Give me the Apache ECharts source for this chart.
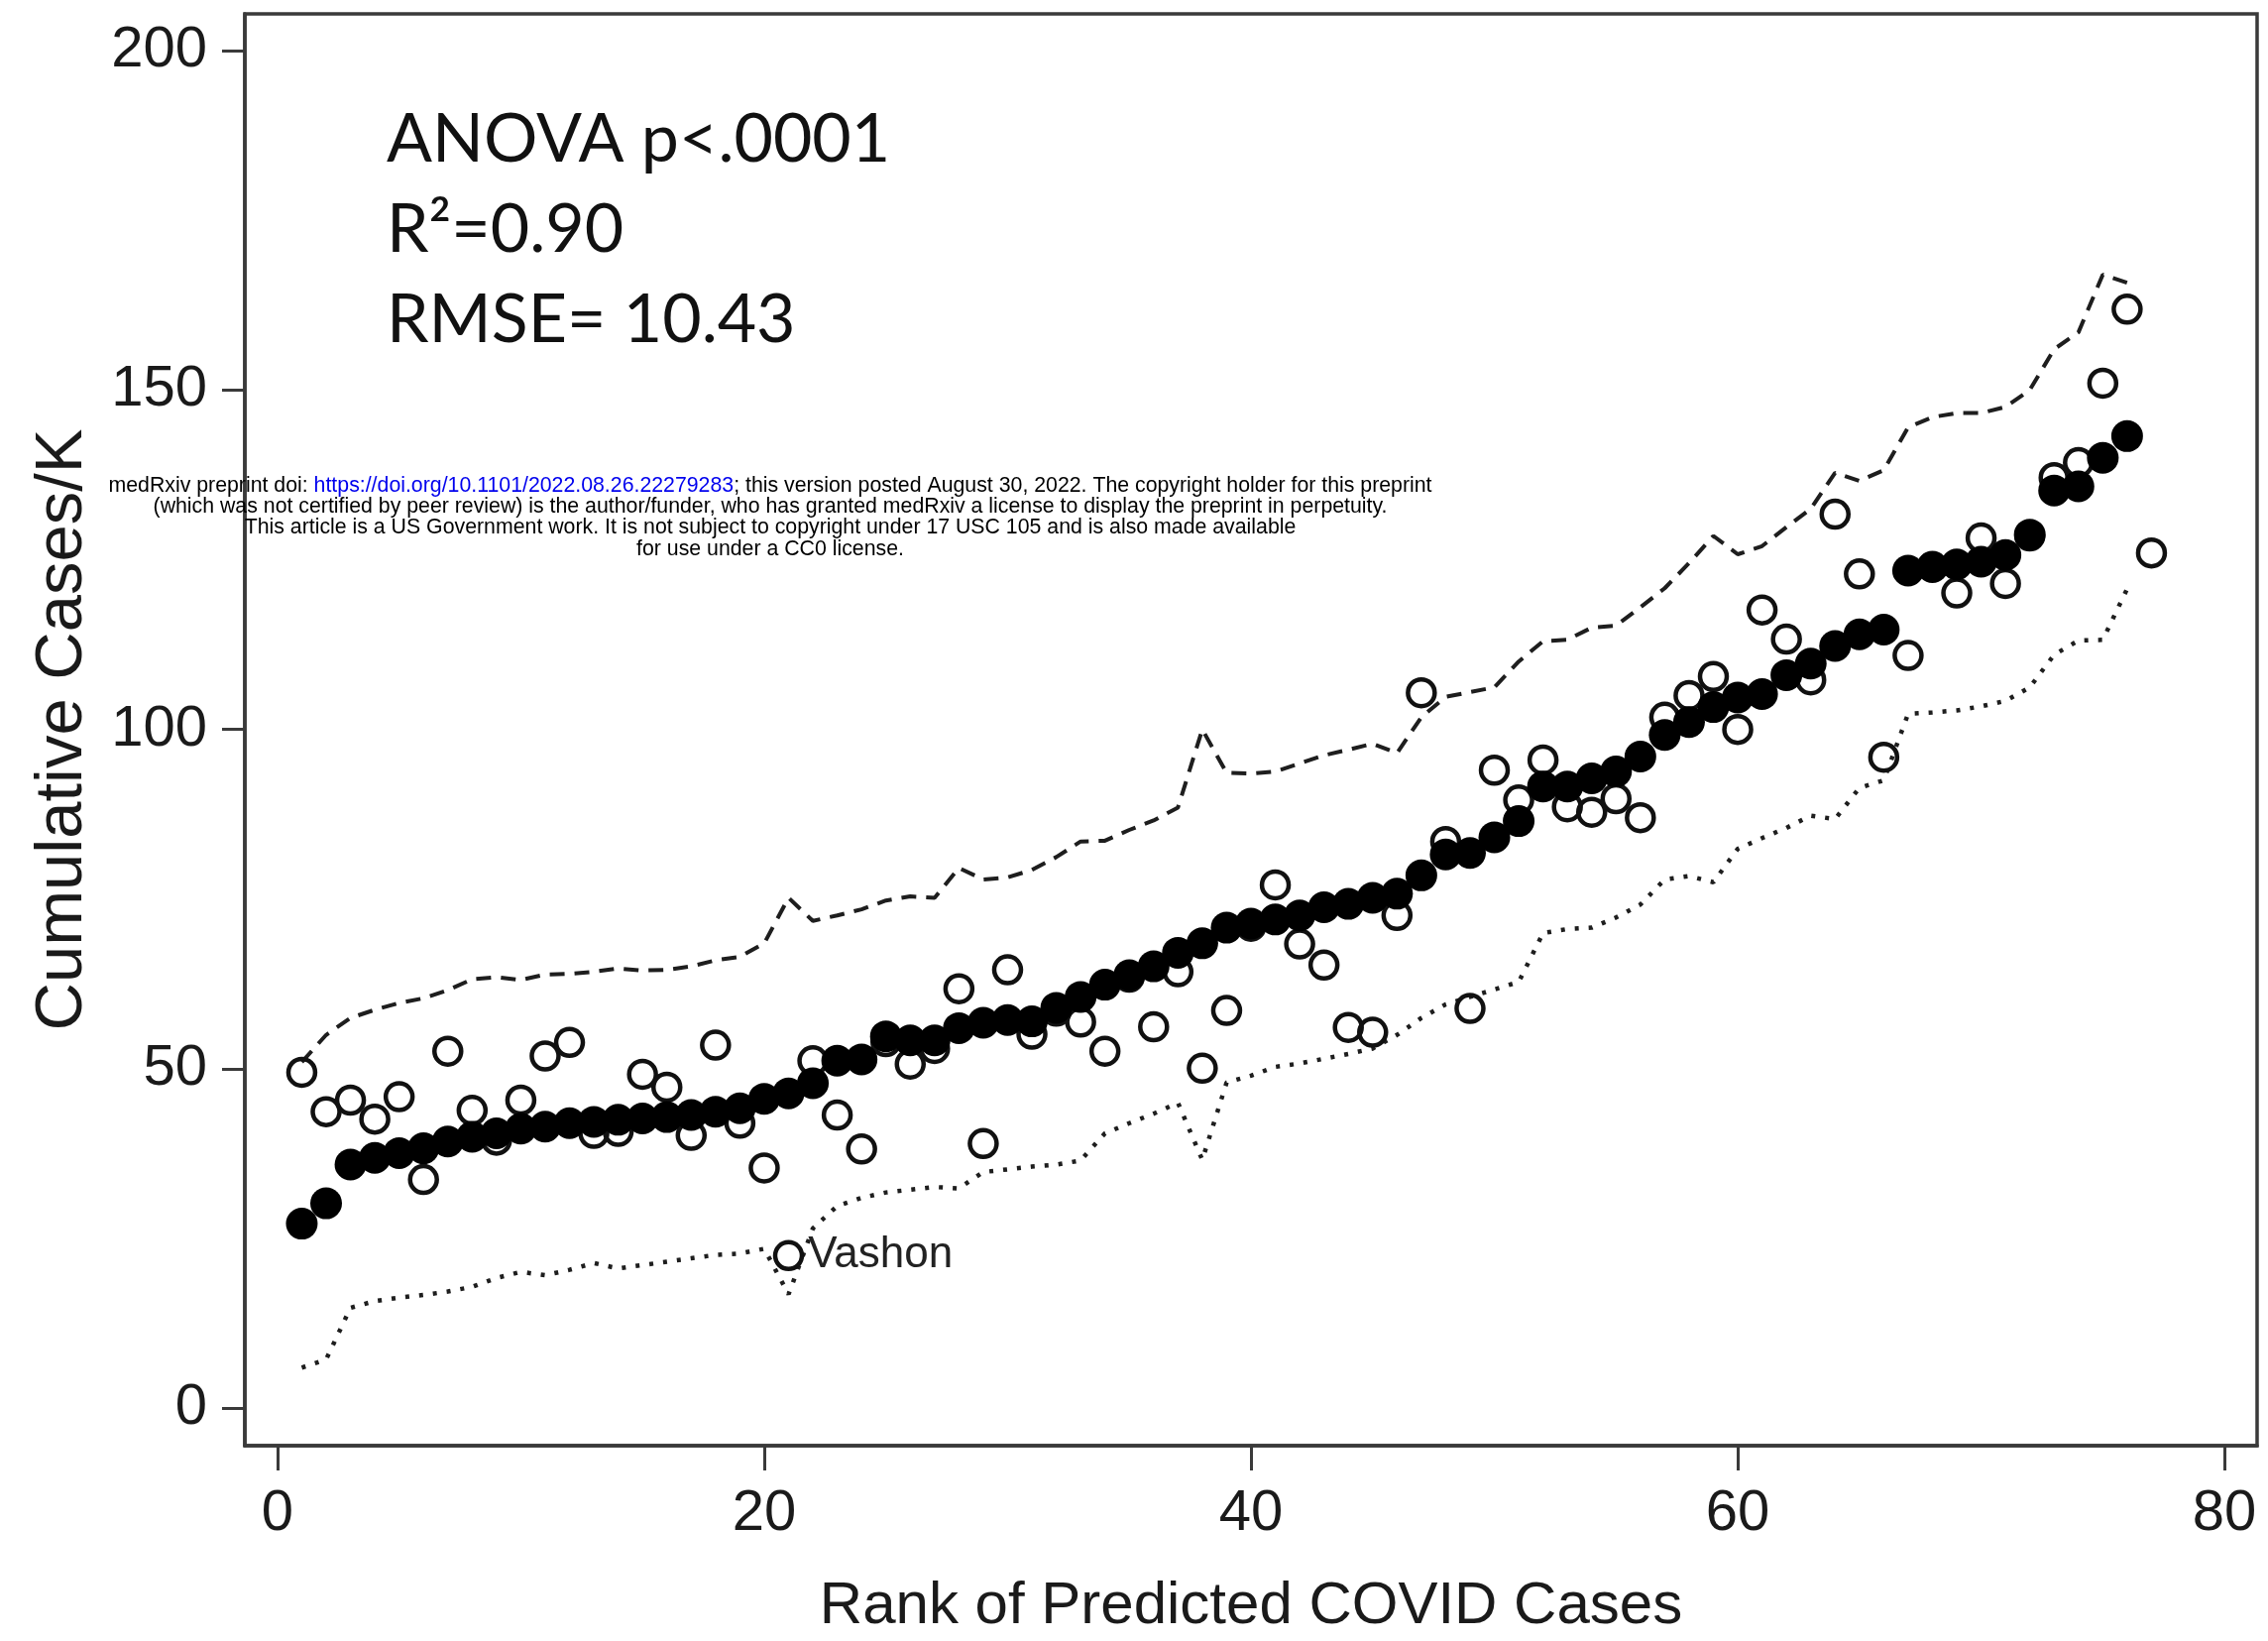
<!DOCTYPE html>
<html>
<head>
<meta charset="utf-8">
<title>Cumulative Cases/K by rank of predicted COVID cases</title>
<script src="https://cdn.jsdelivr.net/npm/echarts@6/dist/echarts.min.js"></script>
<style>
  html, body { margin: 0; padding: 0; background: #fff; }
  #chart { width: 2288px; height: 1655px; }
</style>
</head>
<body>
<div id="chart"></div>
<script>
// observed cumulative cases per 1000, by rank of predicted cases (rank 1..77)
const observed = [
  49.5, 43.7, 45.4, 42.6, 45.9, 33.7, 52.6, 43.9, 39.5, 45.4,
  51.9, 53.9, 40.5, 40.8, 49.2, 47.3, 40.2, 53.5, 42.0, 35.4,
  22.5, 51.2, 43.2, 38.2, 54.0, 50.7, 53.0, 61.8, 39.0, 64.6,
  55.1, 58.5, 56.9, 52.6, 63.5, 56.2, 64.3, 50.1, 58.6, 71.0,
  77.1, 68.4, 65.3, 56.1, 55.4, 72.6, 105.4, 83.5, 58.9, 94.0,
  89.6, 95.5, 88.6, 87.8, 89.8, 87.0, 101.8, 105.0, 107.8, 100.0,
  117.6, 113.3, 107.3, 131.7, 122.9, 95.9, 110.9, 124.0, 120.1, 128.2,
  121.5, 128.5, 137.1, 139.3, 151.0, 161.9, 126.0
]
// model predictions (rank 1..76)
const predicted = [
  27.2, 30.2, 35.9, 36.9, 37.6, 38.3, 39.3, 40.0, 40.5, 41.2,
  41.5, 42.0, 42.2, 42.5, 42.7, 42.9, 43.2, 43.7, 44.2, 45.6,
  46.4, 47.9, 51.2, 51.4, 54.8, 54.2, 54.2, 56.0, 56.8, 57.2,
  57.0, 59.0, 60.6, 62.4, 63.8, 65.1, 67.1, 68.5, 70.8, 71.4,
  72.0, 72.6, 73.8, 74.3, 75.2, 75.8, 78.5, 81.6, 81.8, 84.1,
  86.5, 91.6, 91.6, 92.8, 93.8, 96.0, 99.2, 101.1, 103.3, 104.7,
  105.2, 108.0, 109.7, 112.3, 114.0, 114.7, 123.4, 123.9, 124.3, 124.7,
  125.7, 128.7, 135.2, 135.8, 140.0, 143.2
]
// upper / lower prediction limits (rank 1..76)
const upperLimit = [
  51.0, 55.0, 57.5, 58.7, 59.7, 60.4, 61.6, 63.2, 63.5, 63.1,
  63.9, 64.0, 64.3, 64.8, 64.5, 64.6, 65.1, 66.0, 66.5, 68.5,
  75.2, 71.8, 72.6, 73.5, 74.8, 75.4, 75.2, 79.6, 77.9, 78.2,
  79.3, 81.2, 83.5, 83.6, 85.2, 86.6, 88.5, 100.0, 93.6, 93.5,
  93.8, 95.0, 96.2, 97.0, 97.9, 96.5, 101.8, 104.8, 105.5, 106.2,
  110.0, 113.0, 113.2, 115.0, 115.3, 118.0, 120.8, 124.5, 128.5, 125.8,
  127.0, 129.8, 132.5, 137.8, 136.6, 138.2, 144.5, 146.0, 146.6, 146.6,
  147.5, 150.0, 156.0, 158.5, 167.0, 165.8
]
const lowerLimit = [
  6.0, 7.2, 14.8, 15.8, 16.3, 16.7, 17.2, 17.9, 19.2, 20.1,
  19.6, 20.4, 21.4, 20.6, 21.1, 21.6, 22.1, 22.6, 22.8, 23.5,
  16.8, 26.5, 29.8, 31.0, 31.8, 32.2, 32.6, 32.4, 34.8, 35.2,
  35.6, 35.9, 36.5, 40.5, 42.0, 43.4, 45.0, 36.6, 48.0, 49.0,
  50.3, 50.8, 51.5, 52.2, 53.0, 55.0, 57.5, 59.5, 60.6, 61.7,
  62.8, 70.0, 70.6, 70.8, 72.3, 74.2, 77.9, 78.4, 77.5, 82.4,
  84.0, 85.5, 87.3, 86.8, 91.4, 92.5, 102.3, 102.5, 102.8, 103.4,
  104.2, 106.2, 111.0, 113.1, 113.2, 120.7
]
const xTicks = [0, 20, 40, 60, 80]
const yTicks = [0, 50, 100, 150, 200]
const labelledRank = 21
const labelledName = 'Vashon'
const statLines = ['ANOVA p<.0001', 'R²=0.90', 'RMSE= 10.43']

const byRank = arr => arr.map((v, i) => [i + 1, v])

const observedData = byRank(observed).map(p => {
  if (p[0] !== labelledRank) return p
  return {
    value: p,
    label: {
      show: true, position: 'right', distance: 4,
      formatter: labelledName,
      fontFamily: 'Liberation Sans, Arial, sans-serif', fontSize: 44, color: '#222'
    }
  }
})

const chart = echarts.init(document.getElementById('chart'), null, { renderer: 'canvas' })

const tickFont = { fontFamily: 'Liberation Sans, Arial, sans-serif', fontSize: 58, color: '#1a1a1a' }
const frameColor = '#3a3a3a'

const option = {
  animation: false,
  backgroundColor: '#fff',
  grid: {
    left: 247, top: 14, right: 11, bottom: 192,
    show: true, borderColor: frameColor, borderWidth: 3.5, backgroundColor: 'transparent'
  },
  xAxis: {
    type: 'value',
    min: -1.34, max: 81.34,
    name: 'Rank of Predicted COVID Cases',
    nameLocation: 'middle',
    nameGap: 132,
    nameTextStyle: { fontFamily: 'Liberation Sans, Arial, sans-serif', fontSize: 60, color: '#1a1a1a' },
    axisLine: { show: true, onZero: false, lineStyle: { color: frameColor, width: 3.5 } },
    axisTick: { show: true, customValues: xTicks, length: 25, lineStyle: { color: frameColor, width: 3 } },
    axisLabel: Object.assign({ customValues: xTicks, margin: 40 }, tickFont),
    splitLine: { show: false }
  },
  yAxis: {
    type: 'value',
    min: -5.5, max: 205.4,
    name: 'Cumulative Cases/K',
    nameLocation: 'middle',
    nameRotate: 90,
    nameGap: 150,
    nameTextStyle: { fontFamily: 'Liberation Sans, Arial, sans-serif', fontSize: 67, color: '#1a1a1a' },
    axisLine: { show: true, onZero: false, lineStyle: { color: frameColor, width: 3.5 } },
    axisTick: { show: true, customValues: yTicks, length: 23, lineStyle: { color: frameColor, width: 3 } },
    axisLabel: Object.assign({ customValues: yTicks, margin: 38 }, tickFont),
    splitLine: { show: false }
  },
  series: [
    {
      name: 'Upper limit',
      type: 'line',
      data: byRank(upperLimit),
      symbol: 'none',
      lineStyle: { color: '#1e1e1e', width: 4, type: [15, 10] },
      z: 2
    },
    {
      name: 'Lower limit',
      type: 'line',
      data: byRank(lowerLimit),
      symbol: 'none',
      lineStyle: { color: '#1e1e1e', width: 4.5, type: [4, 10] },
      z: 2
    },
    {
      name: 'Observed',
      type: 'scatter',
      data: observedData,
      symbol: 'circle',
      symbolSize: 27,
      itemStyle: { color: 'rgba(255,255,255,0)', borderColor: '#111', borderWidth: 4.5, opacity: 1 },
      z: 3
    },
    {
      name: 'Predicted',
      type: 'scatter',
      data: byRank(predicted),
      symbol: 'circle',
      symbolSize: 32,
      itemStyle: { color: '#000', opacity: 1 },
      z: 4
    }
  ],
  graphic: statLines.map((t, i) => ({
    type: 'text',
    x: 390, y: 141 + i * 91,
    z: 10,
    style: {
      text: t,
      fontFamily: 'Lato, "Open Sans", sans-serif',
      fontSize: 68,
      fill: '#111',
      verticalAlign: 'middle'
    }
  })).concat([
    {
      type: 'text',
      x: 777, y: 479,
      z: 10,
      style: {
        text: [
          '{a|medRxiv preprint doi: }{b|https://doi.org/10.1101/2022.08.26.22279283}{a|; this version posted August 30, 2022. The copyright holder for this preprint}',
          '{a|(which was not certified by peer review) is the author/funder, who has granted medRxiv a license to display the preprint in perpetuity.}',
          '{a|This article is a US Government work. It is not subject to copyright under 17 USC 105 and is also made available}',
          '{a|for use under a CC0 license.}'
        ].join('\n'),
        align: 'center',
        verticalAlign: 'top',
        rich: {
          a: { fontFamily: 'Liberation Sans, Arial, sans-serif', fontSize: 21.3, lineHeight: 21.4, fill: '#000' },
          b: { fontFamily: 'Liberation Sans, Arial, sans-serif', fontSize: 21.3, lineHeight: 21.4, fill: '#0000ee' }
        }
      }
    }
  ])
}

chart.setOption(option)
</script>
</body>
</html>
